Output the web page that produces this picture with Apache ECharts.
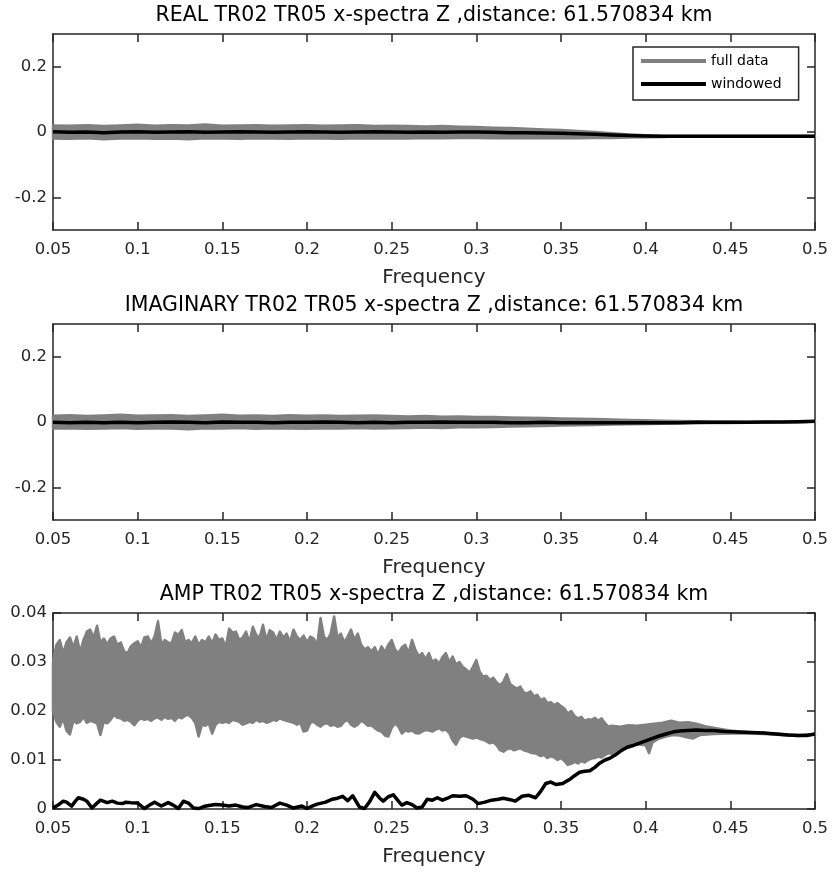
<!DOCTYPE html>
<html>
<head>
<meta charset="utf-8">
<script src="https://cdn.jsdelivr.net/npm/echarts@6/dist/echarts.min.js"></script>
<style>
  html, body { margin: 0; padding: 0; background: #fff; }
  #chart { width: 833px; height: 873px; }
</style>
</head>
<body>
<div id="chart"></div>
<script>
// ---- axis ticks and labels ----
const freqTicks = [0.05, 0.1, 0.15, 0.2, 0.25, 0.3, 0.35, 0.4, 0.45, 0.5];
const freqTickLabels = ['0.05', '0.1', '0.15', '0.2', '0.25', '0.3', '0.35', '0.4', '0.45', '0.5'];
const reImTicks = [-0.2, 0, 0.2];
const reImTickLabels = ['-0.2', '0', '0.2'];
const ampTicks = [0, 0.01, 0.02, 0.03, 0.04];
const ampTickLabels = ['0', '0.01', '0.02', '0.03', '0.04'];
const panelTitles = [
  'REAL TR02 TR05 x-spectra Z ,distance: 61.570834 km',
  'IMAGINARY TR02 TR05 x-spectra Z ,distance: 61.570834 km',
  'AMP TR02 TR05 x-spectra Z ,distance: 61.570834 km'
];
const xAxisName = 'Frequency';
const seriesNames = ['full data', 'windowed'];

// ---- frequency grid for real / imaginary parts ----
const coarseFreq = [0.05, 0.06, 0.07, 0.08, 0.09, 0.10, 0.11, 0.12, 0.13, 0.14,
  0.15, 0.16, 0.17, 0.18, 0.19, 0.20, 0.21, 0.22, 0.23, 0.24,
  0.25, 0.26, 0.27, 0.28, 0.29, 0.30, 0.31, 0.32, 0.33, 0.34,
  0.35, 0.36, 0.37, 0.38, 0.39, 0.40, 0.41, 0.42, 0.43, 0.44,
  0.45, 0.46, 0.47, 0.48, 0.49, 0.50];

// real part: spread of the full spectrum (upper / lower) and windowed spectrum
const realUpper = [0.020, 0.019, 0.021, 0.018, 0.020, 0.022, 0.019, 0.021, 0.020, 0.023,
  0.019, 0.020, 0.021, 0.019, 0.020, 0.021, 0.019, 0.020, 0.021, 0.018,
  0.019, 0.018, 0.017, 0.018, 0.016, 0.015, 0.013, 0.012, 0.010, 0.008,
  0.006, 0.003, 0.000, -0.004, -0.008, -0.010, -0.012, -0.012, -0.012, -0.012,
  -0.012, -0.012, -0.012, -0.012, -0.012, -0.012];
const realLower = [-0.020, -0.021, -0.019, -0.022, -0.020, -0.019, -0.021, -0.020, -0.022, -0.019,
  -0.020, -0.021, -0.019, -0.020, -0.021, -0.019, -0.020, -0.021, -0.019, -0.020,
  -0.019, -0.020, -0.018, -0.019, -0.018, -0.018, -0.019, -0.018, -0.019, -0.018,
  -0.019, -0.019, -0.018, -0.018, -0.017, -0.016, -0.015, -0.014, -0.014, -0.014,
  -0.014, -0.014, -0.014, -0.014, -0.014, -0.014];
const realWindowed = [0.001, -0.001, 0.000, -0.002, 0.000, 0.001, -0.001, 0.000, 0.001, -0.001,
  0.000, 0.001, 0.000, -0.001, 0.000, 0.001, 0.000, -0.001, 0.000, 0.001,
  0.000, -0.001, 0.000, -0.001, 0.000, 0.000, -0.001, -0.002, -0.002, -0.003,
  -0.004, -0.005, -0.007, -0.009, -0.011, -0.012, -0.013, -0.013, -0.013, -0.013,
  -0.013, -0.013, -0.013, -0.013, -0.013, -0.013];

// imaginary part
const imagUpper = [0.019, 0.021, 0.018, 0.020, 0.022, 0.019, 0.020, 0.021, 0.018, 0.020,
  0.022, 0.019, 0.020, 0.018, 0.021, 0.019, 0.020, 0.018, 0.019, 0.020,
  0.018, 0.017, 0.018, 0.016, 0.017, 0.015, 0.015, 0.014, 0.013, 0.012,
  0.011, 0.010, 0.009, 0.008, 0.006, 0.005, 0.004, 0.003, 0.002, 0.001,
  0.001, 0.000, 0.000, 0.000, 0.001, 0.002];
const imagLower = [-0.020, -0.019, -0.021, -0.020, -0.018, -0.021, -0.019, -0.020, -0.022, -0.019,
  -0.020, -0.018, -0.021, -0.019, -0.020, -0.021, -0.019, -0.020, -0.018, -0.020,
  -0.019, -0.018, -0.017, -0.018, -0.016, -0.016, -0.015, -0.014, -0.013, -0.012,
  -0.011, -0.010, -0.009, -0.008, -0.007, -0.006, -0.005, -0.004, -0.004, -0.003,
  -0.003, -0.002, -0.002, -0.001, -0.001, 0.001];
const imagWindowed = [-0.001, -0.002, -0.001, -0.002, -0.001, -0.002, -0.001, 0.000, -0.001, -0.002,
  0.000, -0.001, -0.001, -0.002, -0.001, -0.001, 0.000, -0.001, -0.002, -0.001,
  -0.002, -0.001, -0.001, 0.000, -0.001, -0.001, -0.001, -0.002, -0.002, -0.001,
  -0.002, -0.002, -0.002, -0.002, -0.002, -0.002, -0.002, -0.002, -0.001, -0.001,
  -0.001, -0.001, 0.000, 0.000, 0.001, 0.002];

// amplitude: upper and lower edge of the full spectrum, [frequency, amplitude]
const ampUpper = [
  [0.050, 0.0300], [0.052, 0.0335], [0.054, 0.0345], [0.056, 0.0318], [0.058, 0.0340],
  [0.060, 0.0350], [0.062, 0.0330], [0.064, 0.0352], [0.066, 0.0320], [0.068, 0.0345],
  [0.070, 0.0362], [0.072, 0.0366], [0.074, 0.0350], [0.076, 0.0374], [0.078, 0.0340],
  [0.080, 0.0348], [0.082, 0.0336], [0.084, 0.0348], [0.086, 0.0352], [0.088, 0.0335],
  [0.090, 0.0340], [0.092, 0.0322], [0.094, 0.0318], [0.096, 0.0332], [0.098, 0.0338],
  [0.100, 0.0342], [0.102, 0.0330], [0.104, 0.0350], [0.106, 0.0352], [0.108, 0.0338],
  [0.110, 0.0352], [0.112, 0.0383], [0.114, 0.0336], [0.116, 0.0345], [0.118, 0.0340],
  [0.120, 0.0338], [0.122, 0.0360], [0.124, 0.0355], [0.126, 0.0365], [0.128, 0.0340],
  [0.130, 0.0345], [0.132, 0.0338], [0.134, 0.0352], [0.136, 0.0335], [0.138, 0.0345],
  [0.140, 0.0340], [0.142, 0.0352], [0.144, 0.0338], [0.146, 0.0356], [0.148, 0.0345],
  [0.150, 0.0348], [0.152, 0.0330], [0.154, 0.0368], [0.156, 0.0360], [0.158, 0.0362],
  [0.160, 0.0345], [0.162, 0.0350], [0.164, 0.0362], [0.166, 0.0340], [0.168, 0.0372],
  [0.170, 0.0355], [0.172, 0.0350], [0.174, 0.0376], [0.176, 0.0345], [0.178, 0.0365],
  [0.180, 0.0360], [0.182, 0.0345], [0.184, 0.0362], [0.186, 0.0350], [0.188, 0.0358],
  [0.190, 0.0340], [0.192, 0.0366], [0.194, 0.0352], [0.196, 0.0345], [0.198, 0.0354],
  [0.200, 0.0340], [0.202, 0.0352], [0.204, 0.0348], [0.206, 0.0335], [0.208, 0.0390],
  [0.210, 0.0352], [0.212, 0.0345], [0.214, 0.0358], [0.216, 0.0393], [0.218, 0.0350],
  [0.220, 0.0358], [0.222, 0.0340], [0.224, 0.0352], [0.226, 0.0366], [0.228, 0.0345],
  [0.230, 0.0358], [0.232, 0.0335], [0.234, 0.0326], [0.236, 0.0330], [0.238, 0.0322],
  [0.240, 0.0330], [0.242, 0.0315], [0.244, 0.0332], [0.246, 0.0320], [0.248, 0.0335],
  [0.250, 0.0345], [0.252, 0.0325], [0.254, 0.0318], [0.256, 0.0330], [0.258, 0.0335],
  [0.260, 0.0318], [0.262, 0.0345], [0.264, 0.0325], [0.266, 0.0312], [0.268, 0.0318],
  [0.270, 0.0306], [0.272, 0.0318], [0.274, 0.0300], [0.276, 0.0305], [0.278, 0.0297],
  [0.280, 0.0310], [0.282, 0.0318], [0.284, 0.0300], [0.286, 0.0311], [0.288, 0.0295],
  [0.290, 0.0300], [0.292, 0.0290], [0.294, 0.0285], [0.296, 0.0278], [0.298, 0.0290],
  [0.300, 0.0304], [0.302, 0.0280], [0.304, 0.0270], [0.306, 0.0272], [0.308, 0.0263],
  [0.310, 0.0268], [0.312, 0.0258], [0.314, 0.0253], [0.316, 0.0260], [0.318, 0.0275],
  [0.320, 0.0255], [0.322, 0.0250], [0.324, 0.0246], [0.326, 0.0250], [0.328, 0.0238],
  [0.330, 0.0236], [0.332, 0.0240], [0.334, 0.0230], [0.336, 0.0233], [0.338, 0.0222],
  [0.340, 0.0226], [0.342, 0.0216], [0.344, 0.0218], [0.346, 0.0212], [0.348, 0.0216],
  [0.350, 0.0210], [0.352, 0.0205], [0.354, 0.0195], [0.356, 0.0200], [0.358, 0.0190],
  [0.360, 0.0185], [0.362, 0.0188], [0.364, 0.0180], [0.366, 0.0183], [0.368, 0.0182],
  [0.370, 0.0186], [0.372, 0.0180], [0.374, 0.0185], [0.376, 0.0175], [0.378, 0.0168],
  [0.380, 0.0170], [0.385, 0.0168], [0.390, 0.0171], [0.395, 0.0170], [0.400, 0.0172],
  [0.405, 0.0174], [0.410, 0.0176], [0.415, 0.0180], [0.420, 0.0176], [0.425, 0.0177],
  [0.430, 0.0174], [0.435, 0.0169], [0.440, 0.0166], [0.445, 0.0163], [0.450, 0.0160],
  [0.455, 0.0158], [0.460, 0.0157], [0.470, 0.0155], [0.480, 0.0153], [0.490, 0.0151],
  [0.500, 0.0153]
];
const ampLower = [
  [0.050, 0.0200], [0.052, 0.0178], [0.054, 0.0168], [0.056, 0.0185], [0.058, 0.0160],
  [0.060, 0.0152], [0.062, 0.0180], [0.064, 0.0175], [0.066, 0.0178], [0.068, 0.0188],
  [0.070, 0.0176], [0.072, 0.0180], [0.074, 0.0178], [0.076, 0.0175], [0.078, 0.0151],
  [0.080, 0.0178], [0.082, 0.0175], [0.084, 0.0182], [0.086, 0.0192], [0.088, 0.0186],
  [0.090, 0.0185], [0.092, 0.0180], [0.094, 0.0182], [0.096, 0.0178], [0.098, 0.0171],
  [0.100, 0.0180], [0.102, 0.0185], [0.104, 0.0182], [0.106, 0.0184], [0.108, 0.0180],
  [0.110, 0.0185], [0.112, 0.0187], [0.114, 0.0182], [0.116, 0.0188], [0.118, 0.0184],
  [0.120, 0.0186], [0.122, 0.0180], [0.124, 0.0188], [0.126, 0.0185], [0.128, 0.0190],
  [0.130, 0.0192], [0.132, 0.0186], [0.134, 0.0176], [0.136, 0.0148], [0.138, 0.0172],
  [0.140, 0.0170], [0.142, 0.0175], [0.144, 0.0154], [0.146, 0.0172], [0.148, 0.0178],
  [0.150, 0.0176], [0.152, 0.0178], [0.154, 0.0176], [0.156, 0.0182], [0.158, 0.0180],
  [0.160, 0.0178], [0.162, 0.0172], [0.164, 0.0175], [0.166, 0.0178], [0.168, 0.0176],
  [0.170, 0.0182], [0.172, 0.0178], [0.174, 0.0180], [0.176, 0.0176], [0.178, 0.0178],
  [0.180, 0.0182], [0.182, 0.0180], [0.184, 0.0185], [0.186, 0.0182], [0.188, 0.0180],
  [0.190, 0.0178], [0.192, 0.0176], [0.194, 0.0172], [0.196, 0.0176], [0.198, 0.0158],
  [0.200, 0.0160], [0.202, 0.0176], [0.204, 0.0178], [0.206, 0.0172], [0.208, 0.0168],
  [0.210, 0.0174], [0.212, 0.0175], [0.214, 0.0170], [0.216, 0.0172], [0.218, 0.0168],
  [0.220, 0.0170], [0.222, 0.0178], [0.224, 0.0182], [0.226, 0.0172], [0.228, 0.0168],
  [0.230, 0.0172], [0.232, 0.0180], [0.234, 0.0176], [0.236, 0.0170], [0.238, 0.0171],
  [0.240, 0.0165], [0.242, 0.0160], [0.244, 0.0158], [0.246, 0.0150], [0.248, 0.0148],
  [0.250, 0.0165], [0.252, 0.0175], [0.254, 0.0168], [0.256, 0.0154], [0.258, 0.0160],
  [0.260, 0.0158], [0.262, 0.0160], [0.264, 0.0155], [0.266, 0.0154], [0.268, 0.0158],
  [0.270, 0.0161], [0.272, 0.0160], [0.274, 0.0158], [0.276, 0.0162], [0.278, 0.0165],
  [0.280, 0.0160], [0.282, 0.0162], [0.284, 0.0155], [0.286, 0.0140], [0.288, 0.0131],
  [0.290, 0.0145], [0.292, 0.0150], [0.294, 0.0148], [0.296, 0.0146], [0.298, 0.0144],
  [0.300, 0.0146], [0.302, 0.0143], [0.304, 0.0141], [0.306, 0.0138], [0.308, 0.0134],
  [0.310, 0.0136], [0.312, 0.0130], [0.314, 0.0120], [0.316, 0.0117], [0.318, 0.0122],
  [0.320, 0.0124], [0.322, 0.0120], [0.324, 0.0122], [0.326, 0.0124], [0.328, 0.0120],
  [0.330, 0.0118], [0.332, 0.0115], [0.334, 0.0114], [0.336, 0.0112], [0.338, 0.0108],
  [0.340, 0.0110], [0.342, 0.0104], [0.344, 0.0108], [0.346, 0.0105], [0.348, 0.0100],
  [0.350, 0.0104], [0.352, 0.0098], [0.354, 0.0090], [0.356, 0.0092], [0.358, 0.0096],
  [0.360, 0.0093], [0.362, 0.0098], [0.364, 0.0095], [0.366, 0.0100], [0.368, 0.0103],
  [0.370, 0.0104], [0.372, 0.0107], [0.374, 0.0105], [0.376, 0.0110], [0.378, 0.0114],
  [0.380, 0.0113], [0.385, 0.0120], [0.390, 0.0126], [0.395, 0.0132], [0.400, 0.0130],
  [0.402, 0.0114], [0.404, 0.0136], [0.408, 0.0144], [0.412, 0.0148], [0.416, 0.0151],
  [0.420, 0.0150], [0.425, 0.0146], [0.428, 0.0144], [0.432, 0.0151], [0.440, 0.0153],
  [0.450, 0.0154], [0.460, 0.0154], [0.470, 0.0153], [0.480, 0.0151], [0.490, 0.0149],
  [0.500, 0.0152]
];
// amplitude of the windowed spectrum, [frequency, amplitude]
const ampWindowed = [
  [0.050, 0.0002], [0.053, 0.0008], [0.056, 0.0016], [0.058, 0.0014], [0.061, 0.0006],
  [0.063, 0.0015], [0.065, 0.0023], [0.068, 0.0020], [0.070, 0.0016], [0.073, 0.0002],
  [0.076, 0.0012], [0.078, 0.0018], [0.082, 0.0013], [0.085, 0.0016], [0.088, 0.0012],
  [0.091, 0.0011], [0.093, 0.0014], [0.096, 0.0013], [0.100, 0.0012], [0.104, 0.0001],
  [0.107, 0.0008], [0.110, 0.0014], [0.114, 0.0006], [0.118, 0.0013], [0.121, 0.0008],
  [0.124, 0.0001], [0.127, 0.0016], [0.130, 0.0012], [0.133, 0.0002], [0.136, 0.0001],
  [0.139, 0.0005], [0.142, 0.0007], [0.146, 0.0009], [0.150, 0.0008], [0.154, 0.0006],
  [0.158, 0.0008], [0.162, 0.0004], [0.165, 0.0003], [0.170, 0.0009], [0.175, 0.0005],
  [0.179, 0.0003], [0.184, 0.0012], [0.188, 0.0008], [0.192, 0.0002], [0.197, 0.0006],
  [0.200, 0.0001], [0.203, 0.0006], [0.206, 0.0010], [0.211, 0.0014], [0.215, 0.0020],
  [0.218, 0.0022], [0.221, 0.0026], [0.224, 0.0017], [0.227, 0.0027], [0.231, 0.0004],
  [0.234, 0.0001], [0.237, 0.0015], [0.240, 0.0034], [0.243, 0.0022], [0.245, 0.0016],
  [0.248, 0.0025], [0.251, 0.0029], [0.254, 0.0016], [0.256, 0.0008], [0.259, 0.0013],
  [0.262, 0.0009], [0.265, 0.0002], [0.268, 0.0004], [0.271, 0.0020], [0.274, 0.0018],
  [0.277, 0.0023], [0.280, 0.0018], [0.283, 0.0022], [0.286, 0.0027], [0.290, 0.0026],
  [0.294, 0.0027], [0.298, 0.0020], [0.301, 0.0011], [0.305, 0.0014], [0.309, 0.0018],
  [0.313, 0.0020], [0.316, 0.0022], [0.320, 0.0019], [0.323, 0.0016], [0.327, 0.0026],
  [0.331, 0.0028], [0.335, 0.0023], [0.338, 0.0036], [0.341, 0.0052], [0.344, 0.0055],
  [0.347, 0.0050], [0.351, 0.0052], [0.355, 0.0060], [0.358, 0.0068], [0.361, 0.0075],
  [0.364, 0.0077], [0.367, 0.0078], [0.370, 0.0085], [0.373, 0.0094], [0.376, 0.0100],
  [0.379, 0.0104], [0.382, 0.0110], [0.386, 0.0120], [0.389, 0.0126], [0.392, 0.0129],
  [0.396, 0.0134], [0.400, 0.0139], [0.404, 0.0144], [0.408, 0.0149], [0.412, 0.0153],
  [0.416, 0.0157], [0.420, 0.0159], [0.425, 0.0160], [0.430, 0.0161], [0.435, 0.0160],
  [0.440, 0.0160], [0.447, 0.0158], [0.455, 0.0157], [0.462, 0.0156], [0.470, 0.0155],
  [0.477, 0.0153], [0.484, 0.0151], [0.490, 0.0150], [0.495, 0.0150], [0.500, 0.0153]
];

// ---- styling ----
const FONT = 'DejaVu Sans';
const AXIS_COLOR = '#262626';
const GRAY = '#808080';
const BLACK = '#000000';
const gridTops = [34, 324, 613];
const GRID_LEFT = 53, GRID_WIDTH = 762, GRID_HEIGHT = 196;

function pairUp(freqs, values) {
  return freqs.map((f, i) => [f, values[i]]);
}

function labelLookup(ticks, labels) {
  return function (v) {
    for (let i = 0; i < ticks.length; i++) {
      if (Math.abs(ticks[i] - v) < 1e-9) return labels[i];
    }
    return '';
  };
}

function makeXAxes(gi) {
  const line = { show: true, onZero: false, lineStyle: { color: AXIS_COLOR, width: 1.5 } };
  const tick = { show: true, inside: true, length: 8, customValues: freqTicks,
    lineStyle: { color: AXIS_COLOR, width: 1.5 } };
  return [
    {
      type: 'value', gridIndex: gi, position: 'bottom', min: 0.05, max: 0.5,
      axisLine: line, axisTick: tick, splitLine: { show: false },
      axisLabel: { customValues: freqTicks, formatter: labelLookup(freqTicks, freqTickLabels),
        fontFamily: FONT, fontSize: 16.5, color: AXIS_COLOR, margin: 11 },
      name: xAxisName, nameLocation: 'middle', nameGap: 38,
      nameTextStyle: { fontFamily: FONT, fontSize: 20, color: AXIS_COLOR }
    },
    {
      type: 'value', gridIndex: gi, position: 'top', min: 0.05, max: 0.5,
      axisLine: line, axisTick: tick, splitLine: { show: false },
      axisLabel: { show: false }
    }
  ];
}

function makeYAxes(gi, min, max, ticks, labels) {
  const line = { show: true, onZero: false, lineStyle: { color: AXIS_COLOR, width: 1.5 } };
  const tick = { show: true, inside: true, length: 8, customValues: ticks,
    lineStyle: { color: AXIS_COLOR, width: 1.5 } };
  return [
    {
      type: 'value', gridIndex: gi, position: 'left', min: min, max: max,
      axisLine: line, axisTick: tick, splitLine: { show: false },
      axisLabel: { customValues: ticks, formatter: labelLookup(ticks, labels),
        fontFamily: FONT, fontSize: 16.5, color: AXIS_COLOR, margin: 6 }
    },
    {
      type: 'value', gridIndex: gi, position: 'right', min: min, max: max,
      axisLine: line, axisTick: tick, splitLine: { show: false },
      axisLabel: { show: false }
    }
  ];
}

// gray band enclosing the full spectrum between its upper and lower edge
function bandSeries(upper, lower, axisIndex) {
  const outline = upper.concat(lower.slice().reverse());
  return {
    type: 'custom', name: seriesNames[0], coordinateSystem: 'cartesian2d',
    xAxisIndex: axisIndex, yAxisIndex: axisIndex,
    data: outline, encode: { x: 0, y: 1 },
    itemStyle: { color: GRAY }, silent: true, z: 2,
    renderItem: function (params, api) {
      if (params.dataIndex !== 0) return null;
      const pts = outline.map(p => api.coord(p));
      return {
        type: 'polygon', shape: { points: pts },
        style: { fill: GRAY, stroke: GRAY, lineWidth: 2.5, lineJoin: 'round' }
      };
    }
  };
}

function windowedSeries(data, axisIndex, width) {
  return {
    type: 'line', name: seriesNames[1], xAxisIndex: axisIndex, yAxisIndex: axisIndex,
    data: data, showSymbol: false, symbol: 'none', silent: true, z: 3,
    itemStyle: { color: BLACK }, lineStyle: { color: BLACK, width: width, join: 'round' }
  };
}

const realBandUpper = pairUp(coarseFreq, realUpper);
const realBandLower = pairUp(coarseFreq, realLower);
const imagBandUpper = pairUp(coarseFreq, imagUpper);
const imagBandLower = pairUp(coarseFreq, imagLower);

const xAxes = [].concat(makeXAxes(0), makeXAxes(1), makeXAxes(2));
const yAxes = [].concat(
  makeYAxes(0, -0.3, 0.3, reImTicks, reImTickLabels),
  makeYAxes(1, -0.3, 0.3, reImTicks, reImTickLabels),
  makeYAxes(2, 0, 0.04, ampTicks, ampTickLabels)
);

const option = {
  animation: false,
  backgroundColor: '#ffffff',
  title: panelTitles.map((t, i) => ({
    text: t, left: GRID_LEFT + GRID_WIDTH / 2, textAlign: 'center',
    top: gridTops[i] - 29, padding: 0,
    textStyle: { fontFamily: FONT, fontSize: 20.5, fontWeight: 'normal', color: '#000' }
  })),
  grid: gridTops.map(t => ({ left: GRID_LEFT, top: t, width: GRID_WIDTH, height: GRID_HEIGHT })),
  xAxis: xAxes,
  yAxis: yAxes,
  legend: {
    data: [
      { name: seriesNames[0], itemStyle: { color: GRAY } },
      { name: seriesNames[1], itemStyle: { color: BLACK } }
    ],
    orient: 'vertical', left: 633, top: 47,
    icon: 'rect', itemWidth: 65, itemHeight: 4, itemGap: 7,
    padding: [6, 17, 8, 8],
    borderColor: AXIS_COLOR, borderWidth: 1.5, backgroundColor: '#fff',
    selectedMode: false, z: 10,
    textStyle: { fontFamily: FONT, fontSize: 14, color: '#000', lineHeight: 16 }
  },
  series: [
    bandSeries(realBandUpper, realBandLower, 0),
    windowedSeries(pairUp(coarseFreq, realWindowed), 0, 3.5),
    bandSeries(imagBandUpper, imagBandLower, 2),
    windowedSeries(pairUp(coarseFreq, imagWindowed), 2, 3.5),
    bandSeries(ampUpper, ampLower, 4),
    windowedSeries(ampWindowed, 4, 3.5)
  ]
};

const chart = echarts.init(document.getElementById('chart'), null, { renderer: 'canvas' });
chart.setOption(option);
</script>
</body>
</html>
